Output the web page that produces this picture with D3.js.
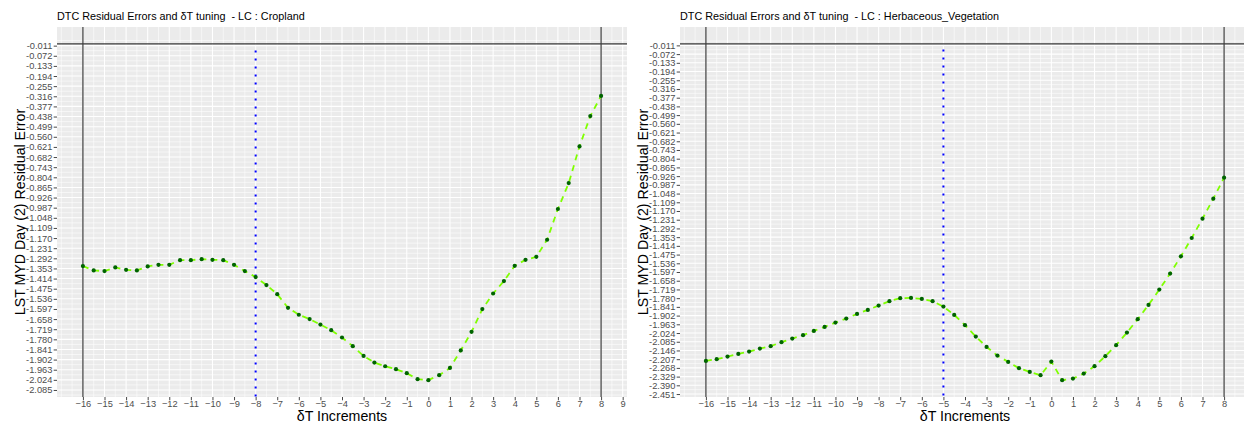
<!DOCTYPE html>
<html>
<head>
<meta charset="utf-8">
<script src="https://cdn.jsdelivr.net/npm/d3@7"></script>
<style>
  html, body { margin: 0; padding: 0; background: #ffffff; }
  svg { display: block; font-family: "Liberation Sans", Arial, Helvetica, sans-serif; }
  .title { white-space: pre; }
</style>
</head>
<body>
<svg id="chart" width="1244" height="423"></svg>
<script>
// δT increments (shared by both land-cover panels)
const increments = [-16, -15.5, -15, -14.5, -14, -13.5, -13, -12.5, -12, -11.5, -11, -10.5, -10,
  -9.5, -9, -8.5, -8, -7.5, -7, -6.5, -6, -5.5, -5, -4.5, -4, -3.5, -3, -2.5, -2, -1.5, -1, -0.5,
  0, 0.5, 1, 1.5, 2, 2.5, 3, 3.5, 4, 4.5, 5, 5.5, 6, 6.5, 7, 7.5, 8];

// LST MYD Day (2) residual error, Cropland
const cropland = [-1.339, -1.365, -1.369, -1.347, -1.361, -1.365, -1.341, -1.331, -1.331, -1.303,
  -1.303, -1.297, -1.301, -1.303, -1.331, -1.369, -1.405, -1.453, -1.508, -1.590, -1.632, -1.658,
  -1.691, -1.725, -1.769, -1.821, -1.880, -1.920, -1.942, -1.960, -1.984, -2.020, -2.026, -1.996,
  -1.952, -1.847, -1.735, -1.598, -1.504, -1.429, -1.337, -1.301, -1.283, -1.180, -0.995, -0.839,
  -0.618, -0.435, -0.314];

// LST MYD Day (2) residual error, Herbaceous_Vegetation
const herbaceous = [-2.219, -2.207, -2.189, -2.170, -2.154, -2.133, -2.116, -2.088, -2.063, -2.039,
  -2.009, -1.981, -1.951, -1.923, -1.890, -1.862, -1.832, -1.801, -1.780, -1.778, -1.785, -1.801,
  -1.839, -1.897, -1.969, -2.049, -2.121, -2.182, -2.226, -2.270, -2.296, -2.319, -2.224, -2.354,
  -2.343, -2.308, -2.256, -2.186, -2.109, -2.021, -1.927, -1.827, -1.720, -1.608, -1.487, -1.359,
  -1.224, -1.084, -0.937];

// y tick labels
const croplandYTicks = ["-0.011", "-0.072", "-0.133", "-0.194", "-0.255", "-0.316", "-0.377",
  "-0.438", "-0.499", "-0.560", "-0.621", "-0.682", "-0.743", "-0.804", "-0.865", "-0.926",
  "-0.987", "-1.048", "-1.109", "-1.170", "-1.231", "-1.292", "-1.353", "-1.414", "-1.475",
  "-1.536", "-1.597", "-1.658", "-1.719", "-1.780", "-1.841", "-1.902", "-1.963", "-2.024",
  "-2.085"];
const herbaceousYTicks = ["-0.011", "-0.072", "-0.133", "-0.194", "-0.255", "-0.316", "-0.377",
  "-0.438", "-0.499", "-0.560", "-0.621", "-0.682", "-0.743", "-0.804", "-0.865", "-0.926",
  "-0.987", "-1.048", "-1.109", "-1.170", "-1.231", "-1.292", "-1.353", "-1.414", "-1.475",
  "-1.536", "-1.597", "-1.658", "-1.719", "-1.780", "-1.841", "-1.902", "-1.963", "-2.024",
  "-2.085", "-2.146", "-2.207", "-2.268", "-2.329", "-2.390", "-2.451"];

// x tick labels
const croplandXTicks = [-16, -15, -14, -13, -12, -11, -10, -9, -8, -7, -6, -5, -4, -3, -2, -1, 0,
  1, 2, 3, 4, 5, 6, 7, 8, 9];
const herbaceousXTicks = [-16, -15, -14, -13, -12, -11, -10, -9, -8, -7, -6, -5, -4, -3, -2, -1, 0,
  1, 2, 3, 4, 5, 6, 7, 8];

// reference lines
const rangeBounds = [-16, 8];       // solid vertical lines
const zeroLine = [0];                // solid horizontal line
const bestShift = [-8, -5];          // dotted blue line per panel (Cropland, Herbaceous)
const bestShiftTop = -0.04;          // upper end of the dotted line

const svg = d3.select("#chart");
const FONT_TICK = 9.3;
const FONT_AXIS = 14.2;
const FONT_TITLE = 10.8;

function drawPanel(opts) {
  const { left, right, top, bottom, values, yTicks, xTicks, shift, title, idx } = opts;

  const x = d3.scaleLinear().domain([-17.2, 9.2]).range([left, right]);
  const lo = Math.min(0, d3.min(values));
  const hi = Math.max(0, d3.max(values));
  const pad = (hi - lo) * 0.05;
  const y = d3.scaleLinear().domain([lo - pad, hi + pad]).range([bottom, top]);

  const g = svg.append("g");
  const clipId = "clip" + idx;
  svg.append("clipPath").attr("id", clipId)
    .append("rect").attr("x", left).attr("y", top)
    .attr("width", right - left).attr("height", bottom - top);

  // panel background
  g.append("rect").attr("x", left).attr("y", top)
    .attr("width", right - left).attr("height", bottom - top)
    .attr("fill", "#EBEBEB");

  const grid = g.append("g").attr("clip-path", `url(#${clipId})`);

  // minor grid: midpoints of major breaks, one step beyond each end
  const yVals = yTicks.map(Number);
  const yStep = yVals[0] - yVals[1];
  const yMinor = [];
  const yExt = [yVals[0] + yStep, ...yVals, yVals[yVals.length - 1] - yStep];
  for (let i = 0; i < yExt.length - 1; i++) yMinor.push((yExt[i] + yExt[i + 1]) / 2);
  const xExt = [xTicks[0] - 1, ...xTicks, xTicks[xTicks.length - 1] + 1];
  const xMinor = [];
  for (let i = 0; i < xExt.length - 1; i++) xMinor.push((xExt[i] + xExt[i + 1]) / 2);
  xMinor.push(xTicks[0] - 1);

  grid.selectAll("line.ymin").data(yMinor).join("line")
    .attr("x1", left).attr("x2", right)
    .attr("y1", d => y(d)).attr("y2", d => y(d))
    .attr("stroke", "#ffffff").attr("stroke-width", 0.55);
  grid.selectAll("line.xmin").data(xMinor).join("line")
    .attr("y1", top).attr("y2", bottom)
    .attr("x1", d => x(d)).attr("x2", d => x(d))
    .attr("stroke", "#ffffff").attr("stroke-width", 0.55);
  grid.selectAll("line.ymaj").data(yVals).join("line")
    .attr("x1", left).attr("x2", right)
    .attr("y1", d => y(d)).attr("y2", d => y(d))
    .attr("stroke", "#ffffff").attr("stroke-width", 1.07);
  grid.selectAll("line.xmaj").data(xTicks).join("line")
    .attr("y1", top).attr("y2", bottom)
    .attr("x1", d => x(d)).attr("x2", d => x(d))
    .attr("stroke", "#ffffff").attr("stroke-width", 1.07);

  const marks = g.append("g").attr("clip-path", `url(#${clipId})`);

  // solid reference lines
  marks.selectAll("line.vb").data(rangeBounds).join("line")
    .attr("x1", d => x(d)).attr("x2", d => x(d))
    .attr("y1", top).attr("y2", bottom)
    .attr("stroke", "#4a4a4a").attr("stroke-width", 1.3);
  marks.selectAll("line.hz").data(zeroLine).join("line")
    .attr("x1", left).attr("x2", right)
    .attr("y1", d => y(d)).attr("y2", d => y(d))
    .attr("stroke", "#3a3a3a").attr("stroke-width", 1.3);

  // dotted line at the selected shift
  marks.append("line")
    .attr("x1", x(shift)).attr("x2", x(shift))
    .attr("y1", y(bestShiftTop)).attr("y2", bottom)
    .attr("stroke", "#0000FF").attr("stroke-width", 2)
    .attr("stroke-dasharray", "2,6");

  // residual curve
  const pts = increments.map((d, i) => [d, values[i]]);
  marks.append("path")
    .attr("d", d3.line().x(d => x(d[0])).y(d => y(d[1]))(pts))
    .attr("fill", "none").attr("stroke", "#7FFF00")
    .attr("stroke-width", 1.8).attr("stroke-dasharray", "6,5");
  marks.selectAll("circle").data(pts).join("circle")
    .attr("cx", d => x(d[0])).attr("cy", d => y(d[1]))
    .attr("r", 2.1).attr("fill", "#006400");

  // y axis
  const yAxis = d3.axisLeft(y).tickValues(yVals).tickFormat((d, i) => yTicks[i])
    .tickSize(3.3).tickPadding(1.3);
  const ya = g.append("g").attr("transform", `translate(${left},0)`).call(yAxis);
  ya.select(".domain").remove();
  ya.selectAll(".tick line").attr("stroke", "#333333").attr("stroke-width", 0.9);
  ya.selectAll(".tick text").attr("fill", "#4D4D4D")
    .style("font-size", FONT_TICK + "px")
    .style("font-family", '"Liberation Sans", Arial, sans-serif');

  // x axis
  const xAxis = d3.axisBottom(x).tickValues(xTicks).tickFormat(d3.format("d"))
    .tickSize(3.3).tickPadding(0.2);
  const xa = g.append("g").attr("transform", `translate(0,${bottom})`).call(xAxis);
  xa.select(".domain").remove();
  xa.selectAll(".tick line").attr("stroke", "#333333").attr("stroke-width", 0.9);
  xa.selectAll(".tick text").attr("fill", "#4D4D4D")
    .style("font-size", FONT_TICK + "px")
    .style("font-family", '"Liberation Sans", Arial, sans-serif');

  // axis titles
  g.append("text")
    .attr("x", (left + Math.min(right, 627 + left - 57)) / 2)
    .attr("y", 420.5)
    .attr("text-anchor", "middle").attr("fill", "#000")
    .style("font-size", FONT_AXIS + "px")
    .text("δT Increments");
  g.append("text")
    .attr("transform", `translate(${left - 32},${(top + bottom) / 2}) rotate(-90)`)
    .attr("text-anchor", "middle").attr("fill", "#000")
    .style("font-size", FONT_AXIS + "px")
    .text("LST MYD Day (2) Residual Error");

  // title
  g.append("text").attr("class", "title")
    .attr("x", left).attr("y", 19.5)
    .attr("fill", "#000")
    .style("font-size", FONT_TITLE + "px")
    .text(title);
}

drawPanel({
  idx: 0, left: 57, right: 627, top: 27, bottom: 397,
  values: cropland, yTicks: croplandYTicks, xTicks: croplandXTicks, shift: bestShift[0],
  title: "DTC Residual Errors and δT tuning  - LC : Cropland"
});
drawPanel({
  idx: 1, left: 680, right: 1250, top: 27, bottom: 397,
  values: herbaceous, yTicks: herbaceousYTicks, xTicks: herbaceousXTicks, shift: bestShift[1],
  title: "DTC Residual Errors and δT tuning  - LC : Herbaceous_Vegetation"
});
</script>
</body>
</html>
